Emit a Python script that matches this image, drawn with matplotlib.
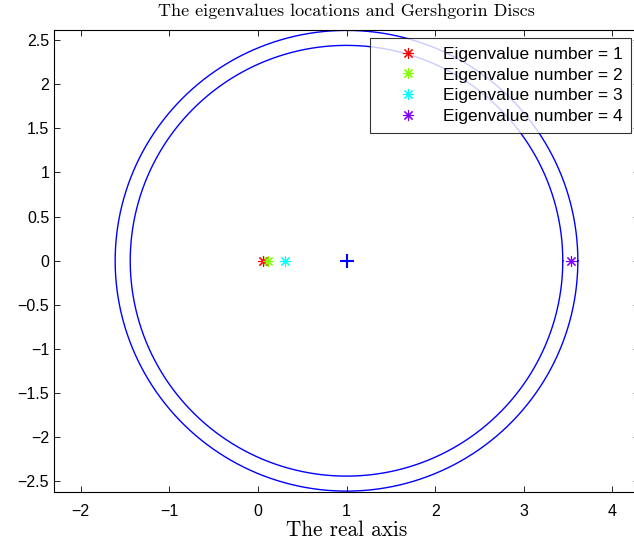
import numpy as np
import matplotlib
matplotlib.use("Agg")
import matplotlib.pyplot as plt

# Datos
centros = [1.0, 1.0]
radios = [2.61, 2.44]
autovalores = [0.053, 0.11, 0.31, 3.53]
colores = ["#ff0000", "#80ff00", "#00ffff", "#8000ff"]
etiquetas = ["Eigenvalue number = 1", "Eigenvalue number = 2",
             "Eigenvalue number = 3", "Eigenvalue number = 4"]
xticks = [-2, -1, 0, 1, 2, 3, 4]
yticks = [-2.5, -2, -1.5, -1, -0.5, 0, 0.5, 1, 1.5, 2, 2.5]

plt.rcParams["font.family"] = ["Liberation Sans", "DejaVu Sans"]

fig = plt.figure(figsize=(6.34, 5.44), dpi=100)
ax = fig.add_axes([54 / 634, 52 / 544, 585 / 634, 462.5 / 544])

# Discos de Gershgorin
t = np.linspace(0, 2 * np.pi, 400)
for c, r in zip(centros, radios):
    ax.plot(c + r * np.cos(t), r * np.sin(t), color="#0000ff", lw=1.0)
ax.plot(centros[0], 0, marker="+", color="#0000ff", ms=10, mew=1.5, ls="none")

# Autovalores
for v, col, lab in zip(autovalores, colores, etiquetas):
    ax.plot(v, 0, marker=(8, 2, 0), color=col, ms=8, mew=0.8, ls="none", label=lab)

ax.set_xlim(-2.3, 4.3)
ax.set_ylim(-2.62, 2.62)
ax.set_xticks(xticks)
ax.set_xticklabels([str(x).replace("-", "\u2212") for x in xticks])
ax.set_yticks(yticks)
ax.set_yticklabels([("%g" % y).replace("-", "\u2212") for y in yticks])
ax.tick_params(direction="in", length=4, width=0.6, labelsize=11.5, top=True, right=True)
ax.tick_params(axis="x", pad=9)
for s in ax.spines.values():
    s.set_linewidth(0.8)

ax.set_title("The eigenvalues locations and Gershgorin Discs", family="cmr10", fontsize=13.0, pad=10)
ax.set_xlabel("The real axis", family="cmr10", fontsize=15.3, labelpad=1)

leg = ax.legend(loc="upper right", bbox_to_anchor=((631 - 54) / 585, 1 - 8.5 / 462.5), fontsize=12.5,
                frameon=True, fancybox=False, edgecolor="black", handlelength=3.4,
                handletextpad=0.3, borderpad=0.5, labelspacing=0.32, borderaxespad=0)
leg.get_frame().set_linewidth(0.8)

fig.savefig("out.png", dpi=100)
